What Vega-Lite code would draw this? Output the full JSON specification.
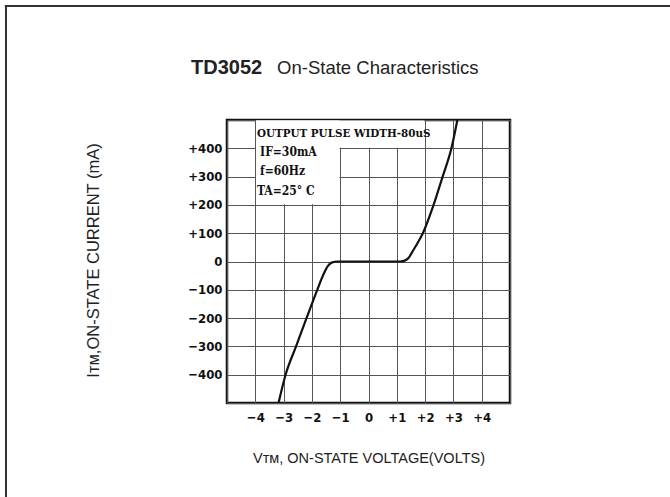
{
  "$schema": "https://vega.github.io/schema/vega-lite/v6.json",
  "width": 283,
  "height": 283,
  "autosize": {"type": "none"},
  "padding": {"left": 227, "top": 120, "right": 160, "bottom": 94},
  "background": "white",
  "data": {"values": [{}]},
  "config": {
    "view": {"stroke": "#111111", "strokeWidth": 2.5},
    "axis": {"domain": false, "ticks": false, "grid": true, "gridColor": "#555555", "gridWidth": 1, "gridOpacity": 1, "labelOverlap": false,
      "labelFont": "DejaVu Sans Condensed, sans-serif", "labelFontWeight": "bold", "labelFontSize": 13, "labelColor": "#111111",
      "titleFont": "Liberation Sans, Arial, sans-serif", "titleFontWeight": "normal", "titleColor": "#222222", "titleBaseline": "middle",
      "labelExpr": "abs(datum.value) >= 499 || abs(datum.value) == 5 ? '' : (datum.value > 0 ? '+' + datum.value : (datum.value < 0 ? '−' + abs(datum.value) : '0'))"},
    "axisX": {"tickCount": 10, "labelPadding": 8, "titleX": 141.5, "titleY": 55, "titleFontSize": 14.5},
    "axisY": {"tickCount": 10, "labelPadding": 5, "titleX": -134, "titleY": 140, "titleFontSize": 16.5}
  },
  "datasets": {
    "curve": [
      {"v": -3.18, "i": -500}, {"v": -2.93, "i": -400}, {"v": -2.56, "i": -300},
      {"v": -2.19, "i": -200}, {"v": -1.81, "i": -100}, {"v": -1.59, "i": -45},
      {"v": -1.44, "i": -16}, {"v": -1.28, "i": -3}, {"v": -1.1, "i": 0},
      {"v": 1.12, "i": 0}, {"v": 1.28, "i": 3}, {"v": 1.42, "i": 13},
      {"v": 1.57, "i": 38}, {"v": 1.75, "i": 68}, {"v": 1.92, "i": 100},
      {"v": 2.30, "i": 200}, {"v": 2.62, "i": 300}, {"v": 2.93, "i": 400},
      {"v": 3.14, "i": 500}
    ]
  },
  "layer": [
    {
      "data": {"name": "curve"},
      "mark": {"type": "rule", "opacity": 0},
      "encoding": {
        "x": {"field": "v", "type": "quantitative",
          "scale": {"domain": [-5, 5], "nice": false, "zero": false},
          "axis": {"title": "Vᴛᴍ, ON-STATE VOLTAGE(VOLTS)"}},
        "y": {"field": "i", "type": "quantitative",
          "scale": {"domain": [-500, 500], "nice": false, "zero": false},
          "axis": {"title": "Iᴛᴍ,ON-STATE CURRENT (mA)"}}
      }
    },
    {
      "mark": {"type": "rect", "fill": "white", "stroke": null},
      "encoding": {
        "x": {"datum": -3.975, "type": "quantitative"},
        "x2": {"datum": 1.975},
        "y": {"datum": 402, "type": "quantitative"},
        "y2": {"datum": 498}
      }
    },
    {
      "mark": {"type": "rect", "fill": "white", "stroke": null},
      "encoding": {
        "x": {"datum": -3.975, "type": "quantitative"},
        "x2": {"datum": -1.025},
        "y": {"datum": 202, "type": "quantitative"},
        "y2": {"datum": 498}
      }
    },
    {
      "data": {"name": "curve"},
      "mark": {"type": "line", "interpolate": "monotone", "color": "#111111", "strokeWidth": 2.2, "clip": true},
      "encoding": {
        "x": {"field": "v", "type": "quantitative"},
        "y": {"field": "i", "type": "quantitative"},
        "order": {"field": "v", "type": "quantitative"}
      }
    },
    {
      "mark": {"type": "text", "text": "OUTPUT PULSE WIDTH-80uS", "align": "left", "baseline": "alphabetic", "font": "DejaVu Serif Condensed, serif", "fontWeight": "bold", "fontSize": 11.5, "color": "#111111"},
      "encoding": {
        "x": {"datum": -3.94, "type": "quantitative"},
        "y": {"datum": 440, "type": "quantitative"}
      }
    },
    {
      "mark": {"type": "text", "text": "IF=30mA", "align": "left", "baseline": "alphabetic", "font": "DejaVu Serif Condensed, serif", "fontWeight": "bold", "fontSize": 12, "color": "#111111"},
      "encoding": {
        "x": {"datum": -3.83, "type": "quantitative"},
        "y": {"datum": 373, "type": "quantitative"}
      }
    },
    {
      "mark": {"type": "text", "text": "f=60Hz", "align": "left", "baseline": "alphabetic", "font": "DejaVu Serif Condensed, serif", "fontWeight": "bold", "fontSize": 12, "color": "#111111"},
      "encoding": {
        "x": {"datum": -3.83, "type": "quantitative"},
        "y": {"datum": 306, "type": "quantitative"}
      }
    },
    {
      "mark": {"type": "text", "text": "TA=25° C", "align": "left", "baseline": "alphabetic", "font": "DejaVu Serif Condensed, serif", "fontWeight": "bold", "fontSize": 12, "color": "#111111"},
      "encoding": {
        "x": {"datum": -3.94, "type": "quantitative"},
        "y": {"datum": 235, "type": "quantitative"}
      }
    },
    {
      "mark": {"type": "text", "text": "TD3052", "align": "left", "baseline": "alphabetic", "font": "Liberation Sans, Arial, sans-serif", "fontWeight": "bold", "fontSize": 20, "color": "#222222", "clip": false},
      "encoding": {
        "x": {"datum": -6.27, "type": "quantitative"},
        "y": {"datum": 662, "type": "quantitative"}
      }
    },
    {
      "mark": {"type": "text", "text": "On-State Characteristics", "align": "left", "baseline": "alphabetic", "font": "Liberation Sans, Arial, sans-serif", "fontWeight": "normal", "fontSize": 18.5, "color": "#222222", "clip": false},
      "encoding": {
        "x": {"datum": -3.23, "type": "quantitative"},
        "y": {"datum": 662, "type": "quantitative"}
      }
    },
    {
      "mark": {"type": "rule", "color": "#333333", "strokeWidth": 2, "clip": false},
      "encoding": {
        "x": {"datum": -12.81, "type": "quantitative"},
        "y": {"datum": 903, "type": "quantitative"},
        "y2": {"datum": -1000}
      }
    },
    {
      "mark": {"type": "rule", "color": "#333333", "strokeWidth": 2, "clip": false},
      "encoding": {
        "x": {"datum": -12.85, "type": "quantitative"},
        "x2": {"datum": 20},
        "y": {"datum": 903, "type": "quantitative"}
      }
    }
  ]
}
